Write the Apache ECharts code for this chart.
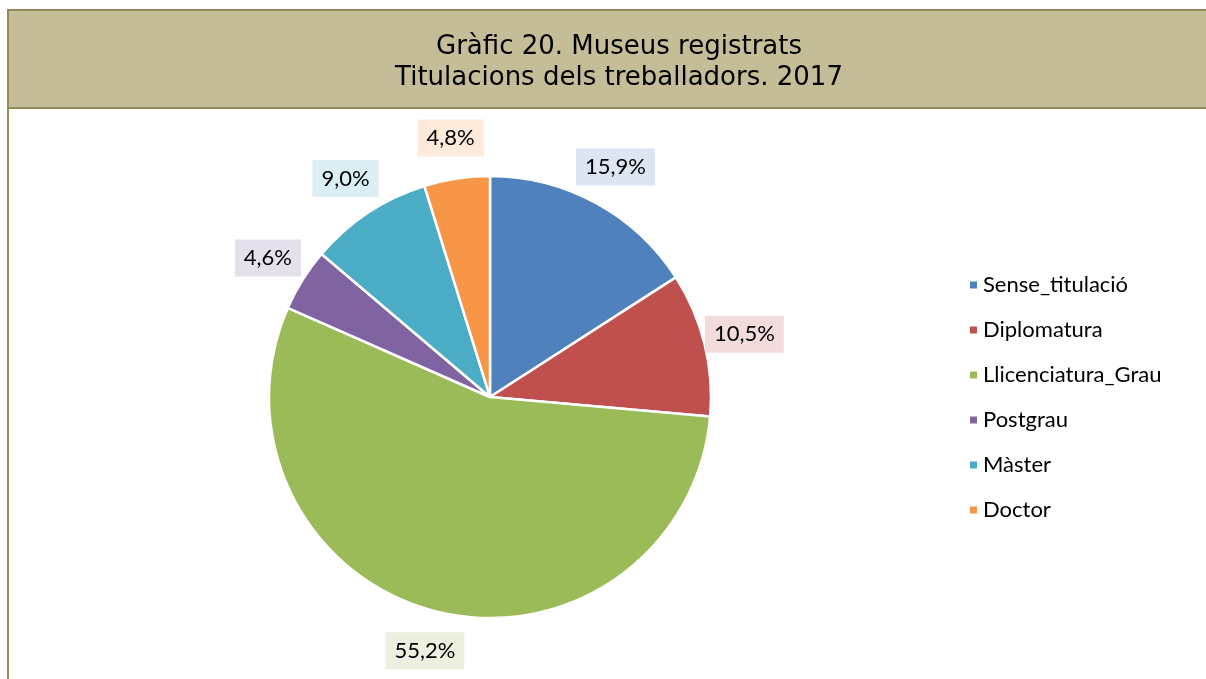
<!DOCTYPE html>
<html>
<head>
<meta charset="utf-8">
<script src="https://cdn.jsdelivr.net/npm/echarts@6/dist/echarts.min.js"></script>
<style>
  html, body { margin: 0; padding: 0; background: #fff; }
  #chart { width: 1206px; height: 679px; }
</style>
</head>
<body>
<div id="chart"></div>
<script>
const titleLines = ['Gràfic 20. Museus registrats', 'Titulacions dels treballadors. 2017'];
const categories = ['Sense_titulació', 'Diplomatura', 'Llicenciatura_Grau', 'Postgrau', 'Màster', 'Doctor'];
const shares = [15.9, 10.5, 55.2, 4.6, 9.0, 4.8];
const sliceColors = ['#4F81BD', '#C0504D', '#9BBB59', '#8064A2', '#4BACC6', '#F79646'];
const labelBg = ['#DCE6F2', '#F2DCDB', '#EBF1DE', '#E6E0EC', '#DBEEF4', '#FDEADA'];

const chart = echarts.init(document.getElementById('chart'));

const pieData = categories.map((name, i) => ({
  name,
  value: shares[i],
  itemStyle: { color: sliceColors[i] }
}));

// transparent ring used only to place the value labels around the pie
const labelData = categories.map((name, i) => ({
  name,
  value: shares[i],
  itemStyle: { color: 'rgba(0,0,0,0)' },
  label: { backgroundColor: labelBg[i] }
}));

const fmt = p => p.value.toFixed(1).replace('.', ',') + '%';

chart.setOption({
  animation: false,
  graphic: [
    {
      type: 'rect',
      shape: { x: 8, y: 10, width: 1210, height: 98 },
      style: { fill: '#C4BD97', stroke: '#948A54', lineWidth: 2 },
      z: -1
    },
    {
      type: 'line',
      shape: { x1: 8, y1: 108.5, x2: 1206, y2: 108.5 },
      style: { stroke: '#948A54', lineWidth: 1 },
      z: -1
    },
    {
      type: 'line',
      shape: { x1: 8, y1: 10, x2: 8, y2: 679 },
      style: { stroke: '#948A54', lineWidth: 2 },
      z: -1
    }
  ],
  title: {
    text: titleLines.join('\n'),
    left: 614,
    textAlign: 'center',
    top: 27,
    textStyle: {
      fontFamily: 'DejaVu Sans',
      fontWeight: 'normal',
      fontSize: 26,
      lineHeight: 31,
      color: '#000'
    }
  },
  legend: {
    orient: 'vertical',
    left: 963,
    top: 269,
    itemWidth: 9,
    itemHeight: 9,
    itemGap: 23,
    icon: 'rect',
    data: categories,
    textStyle: { fontFamily: 'Lato', fontSize: 22, lineHeight: 22, color: '#000' }
  },
  series: [
    {
      type: 'pie',
      center: [490, 397],
      radius: [0, 221],
      startAngle: 90,
      clockwise: true,
      silent: true,
      label: { show: false },
      labelLine: { show: false },
      itemStyle: { borderColor: '#fff', borderWidth: 2.5 },
      data: pieData
    },
    {
      type: 'pie',
      center: [490, 397],
      radius: [221, 297],
      startAngle: 90,
      clockwise: true,
      silent: true,
      z: 3,
      label: {
        show: true,
        position: 'inside',
        formatter: fmt,
        fontFamily: 'Lato',
        fontSize: 22,
        color: '#000',
        padding: [8, 9, 7, 9]
      },
      labelLine: { show: false },
      data: labelData
    }
  ]
});
</script>
</body>
</html>
